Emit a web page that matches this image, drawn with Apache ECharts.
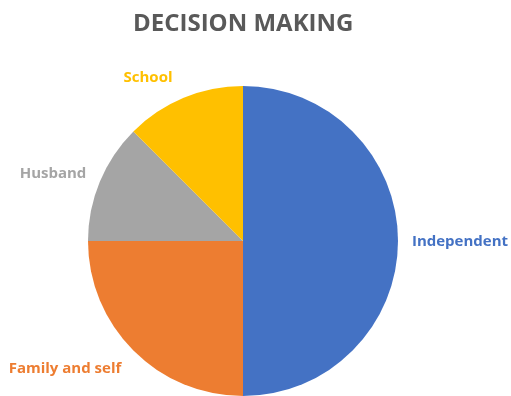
<!DOCTYPE html>
<html>
<head>
<meta charset="utf-8">
<script src="https://cdn.jsdelivr.net/npm/echarts@6/dist/echarts.min.js"></script>
<style>
  html, body { margin: 0; padding: 0; background: #fff; }
  #chart { width: 511px; height: 396px; }
</style>
</head>
<body>
<div id="chart"></div>
<script>
// Who makes the decisions
const categories = ['Independent', 'Family and self', 'Husband', 'School'];
const shares = [50, 25, 12.5, 12.5];
const sliceColors = ['#4472C4', '#ED7D31', '#A5A5A5', '#FFC000'];

// label centres, one per category (pixels)
const labelSpots = [[460, 242], [65, 369], [53, 174], [148, 78]];

const chart = echarts.init(document.getElementById('chart'), null, { renderer: 'canvas' });

chart.setOption({
  animation: false,
  title: {
    text: 'DECISION MAKING',
    left: 128,
    top: 7,
    textStyle: {
      fontFamily: 'Open Sans',
      fontWeight: 'bold',
      fontSize: 24,
      color: '#595959'
    }
  },
  series: [{
    type: 'pie',
    center: [243, 241],
    radius: 155,
    startAngle: 90,
    clockwise: true,
    avoidLabelOverlap: false,
    itemStyle: {
      borderWidth: 0
    },
    label: {
      show: true,
      position: 'outside',
      formatter: '{b}',
      fontFamily: 'Open Sans',
      fontWeight: 'bold',
      fontSize: 15
    },
    labelLine: { show: false },
    labelLayout: function (p) {
      const s = labelSpots[p.dataIndex];
      return { x: s[0], y: s[1], align: 'center', verticalAlign: 'middle' };
    },
    data: categories.map((name, i) => ({
      name: name,
      value: shares[i],
      itemStyle: { color: sliceColors[i] },
      label: { color: sliceColors[i] }
    }))
  }]
});
</script>
</body>
</html>
